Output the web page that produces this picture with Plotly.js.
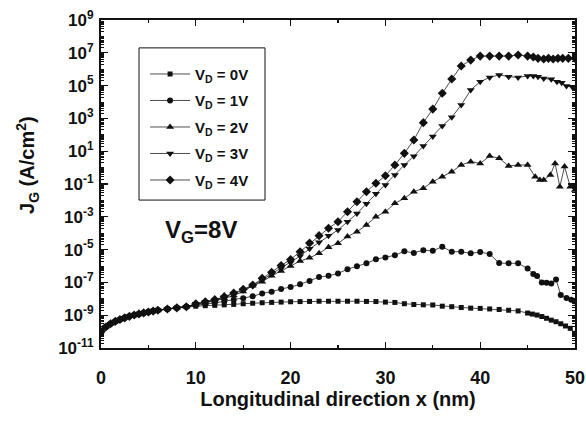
<!DOCTYPE html>
<html>
<head>
<meta charset="utf-8">
<script src="https://cdn.plot.ly/plotly-3.0.1.min.js"></script>
<style>html,body{margin:0;padding:0;background:#fff}#chart{width:586px;height:423px}</style>
</head>
<body>
<div id="chart"></div>
<script>
// ---- data (x in nm, J_G in A/cm^2) ----
var xStart = [0, 0.5, 1, 1.5, 2, 2.5, 3, 3.5, 4, 4.5, 5, 5.5, 6, 7, 8, 9];
var jStart = [1.0e-10, 1.9e-10, 3.0e-10, 4.2e-10, 5.5e-10, 6.9e-10, 8.5e-10, 1.02e-9, 1.2e-9, 1.38e-9, 1.58e-9, 1.78e-9, 2.0e-9, 2.4e-9, 2.8e-9, 3.3e-9];

var xVD0 = [10, 11, 12, 13, 14, 15, 16, 17, 18, 19, 20, 21, 22, 23, 24, 25, 26, 27, 28, 29, 30, 31, 32, 33, 34, 35, 36, 37, 38, 39, 40, 41, 42, 43, 44, 45, 45.5, 46, 46.5, 47, 47.5, 48, 48.5, 49, 49.5, 50];
var jVD0 = [3.55e-9, 3.8e-9, 3.98e-9, 4.27e-9, 4.57e-9, 5.0e-9, 5.37e-9, 5.75e-9, 6.03e-9, 6.3e-9, 6.6e-9, 6.76e-9, 6.9e-9, 7.1e-9, 7.1e-9, 7.1e-9, 7.1e-9, 7.1e-9, 6.9e-9, 6.8e-9, 6.3e-9, 6.0e-9, 5.0e-9, 4.5e-9, 4.3e-9, 4.2e-9, 3.55e-9, 3.3e-9, 2.95e-9, 2.7e-9, 2.6e-9, 2.4e-9, 2.24e-9, 2.0e-9, 1.82e-9, 1.35e-9, 1.17e-9, 1.02e-9, 8.3e-10, 6.5e-10, 5.0e-10, 4.0e-10, 3.0e-10, 2.2e-10, 1.58e-10, 7.9e-11];

var xVD1 = [10, 11, 12, 13, 14, 15, 16, 17, 18, 19, 20, 21, 22, 23, 24, 25, 26, 27, 28, 29, 30, 31, 32, 33, 34, 35, 36, 37, 38, 39, 40, 41, 42, 43, 44, 45, 45.6, 46, 46.5, 47, 47.5, 48, 48.5, 49.1, 49.6, 50];
var jVD1 = [3.98e-9, 4.8e-9, 5.6e-9, 7.1e-9, 8.9e-9, 1.07e-8, 1.41e-8, 2.14e-8, 2.7e-8, 4.0e-8, 5.2e-8, 7.6e-8, 1.2e-7, 2.1e-7, 2.5e-7, 3.55e-7, 6.3e-7, 9.5e-7, 1.45e-6, 2.57e-6, 3.3e-6, 4.5e-6, 7.9e-6, 6.3e-6, 9.1e-6, 8.5e-6, 1.5e-5, 7.4e-6, 7.4e-6, 5.9e-6, 7.1e-6, 5.4e-6, 1.5e-6, 1.45e-6, 1.45e-6, 7.1e-7, 3.2e-7, 2.45e-7, 1.0e-7, 9.5e-8, 8.7e-8, 1.5e-7, 1.7e-8, 1.12e-8, 8.9e-9, 6.8e-9];

var xVD2 = [10, 11, 12, 13, 14, 15, 16, 17, 18, 19, 20, 21, 22, 23, 24, 25, 26, 27, 28, 29, 30, 31, 32, 33, 34, 35, 36, 37, 38, 39, 40, 41, 42, 43, 44, 45, 45.8, 46.3, 46.7, 47.4, 47.9, 48.4, 48.9, 49.5, 50];
var jVD2 = [4.5e-9, 5.75e-9, 7.6e-9, 1.07e-8, 1.58e-8, 2.8e-8, 6.3e-8, 1.1e-7, 2.5e-7, 5.0e-7, 1.0e-6, 2.0e-6, 3.16e-6, 5.9e-6, 1.41e-5, 2.4e-5, 6.2e-5, 1.23e-4, 3.16e-4, 1.0e-3, 2.04e-3, 6.6e-3, 1.35e-2, 3.4e-2, 5.5e-2, 0.138, 0.28, 0.56, 1.45, 2.3, 1.8, 5.1, 3.7, 1.26, 1.45, 1.45, 0.28, 0.174, 0.174, 0.355, 1.8, 0.069, 1.15, 0.069, 0.043];

var xVD3 = [10, 11, 12, 13, 14, 15, 16, 17, 18, 19, 20, 21, 22, 23, 24, 25, 26, 27, 28, 29, 30, 31, 32, 33, 34, 35, 36, 37, 38, 39, 40, 41, 42, 43, 44, 45, 45.6, 46.1, 46.7, 47.5, 48.1, 48.6, 49.1, 49.7, 50];
var jVD3 = [4.8e-9, 6.3e-9, 8.3e-9, 1.26e-8, 2.0e-8, 3.4e-8, 6.3e-8, 1.41e-7, 3.16e-7, 7.1e-7, 1.58e-6, 4.0e-6, 1.12e-5, 2.8e-5, 7.1e-5, 1.58e-4, 5.0e-4, 1.58e-3, 6.3e-3, 2.5e-2, 8.7e-2, 0.355, 1.45, 5.0, 21, 78, 347, 1175, 6600, 5.4e4, 1.74e5, 3.16e5, 4.5e5, 3.5e5, 3.16e5, 3.9e5, 3.9e5, 3.5e5, 2.75e5, 2.4e5, 1.74e5, 1.5e5, 9.5e4, 8.5e4, 7.9e4];

var xVD4 = [10, 11, 12, 13, 14, 15, 16, 17, 18, 19, 20, 21, 22, 23, 24, 25, 26, 27, 28, 29, 30, 31, 32, 33, 34, 35, 36, 37, 38, 39, 40, 41, 42, 43, 44, 45, 45.6, 46.1, 46.7, 47.2, 47.7, 48.2, 48.7, 49.3, 50];
var jVD4 = [5.0e-9, 6.6e-9, 8.9e-9, 1.35e-8, 2.24e-8, 3.8e-8, 6.9e-8, 1.78e-7, 4.2e-7, 1.07e-6, 2.5e-6, 7.4e-6, 2.5e-5, 7.1e-5, 2.0e-4, 5.0e-4, 2.04e-3, 8.3e-3, 3.4e-2, 0.11, 0.316, 1.45, 7.4, 48, 550, 3700, 3.4e4, 2.5e5, 1.58e6, 3.6e6, 6.3e6, 6.3e6, 6.3e6, 6.3e6, 7.4e6, 6.3e6, 5.6e6, 4.6e6, 4.2e6, 4.6e6, 4.2e6, 4.6e6, 4.6e6, 4.6e6, 4.6e6];

var seriesNames = ['V<sub>D</sub> = 0V', 'V<sub>D</sub> = 1V', 'V<sub>D</sub> = 2V', 'V<sub>D</sub> = 3V', 'V<sub>D</sub> = 4V'];
var seriesSymbols = ['square', 'circle', 'triangle-up', 'triangle-down', 'diamond'];
var seriesX = [xVD0, xVD1, xVD2, xVD3, xVD4];
var seriesJ = [jVD0, jVD1, jVD2, jVD3, jVD4];

var xTickVals = [0, 10, 20, 30, 40, 50];
var xTickText = ['0', '10', '20', '30', '40', '50'];
var yTickVals = [1e-11, 1e-9, 1e-7, 1e-5, 1e-3, 1e-1, 1e1, 1e3, 1e5, 1e7, 1e9];
var yTickText = ['10<sup>-11</sup>', '10<sup>-9</sup>', '10<sup>-7</sup>', '10<sup>-5</sup>', '10<sup>-3</sup>', '10<sup>-1</sup>', '10<sup>1</sup>', '10<sup>3</sup>', '10<sup>5</sup>', '10<sup>7</sup>', '10<sup>9</sup>'];

var markerSizes = [5, 6, 7, 7, 7];

var traces = [];
for (var i = 0; i < 5; i++) {
  traces.push({
    type: 'scatter', mode: 'lines+markers',
    x: xStart.concat(seriesX[i]),
    y: jStart.concat(seriesJ[i]),
    name: seriesNames[i],
    legendgroup: 'g' + i,
    line: {color: '#000', width: 0.7},
    marker: {symbol: seriesSymbols[i], size: markerSizes[i], color: '#111'}
  });
}

var F = 'Liberation Sans, Arial, sans-serif';
var layout = {
  width: 586, height: 423,
  margin: {l: 101, r: 11, t: 20, b: 75},
  paper_bgcolor: '#fff', plot_bgcolor: '#fff',
  font: {family: F, color: '#111'},
  showlegend: true,
  legend: {
    x: 0.093, y: 0.885, xanchor: 'left', yanchor: 'top',
    bgcolor: 'rgba(0,0,0,0)', borderwidth: 0,
    font: {family: F, size: 15, color: '#111', weight: 'bold'},
    tracegroupgap: 4, itemwidth: 40
  },
  xaxis: {
    range: [0, 50], tickmode: 'array', tickvals: xTickVals, ticktext: xTickText,
    ticks: 'inside', ticklen: 6, tickwidth: 1.2, tickcolor: '#111',
    minor: {ticks: 'inside', dtick: 5, ticklen: 3, tickwidth: 1.2, tickcolor: '#111'},
    showline: true, linewidth: 2, linecolor: '#111', mirror: 'ticks',
    showgrid: false, zeroline: false,
    tickfont: {family: F, size: 18, weight: 'bold', color: '#111'},
    ticklabelstandoff: 12,
    title: {text: 'Longitudinal direction x (nm)', font: {family: F, size: 20, weight: 'bold', color: '#111'}, standoff: 4}
  },
  yaxis: {
    type: 'log', range: [-11, 9], tickmode: 'array', tickvals: yTickVals, ticktext: yTickText,
    ticks: 'inside', ticklen: 7, tickwidth: 1.2, tickcolor: '#111',
    minor: {ticks: 'inside', dtick: 'D1', ticklen: 3, tickwidth: 1, tickcolor: '#111'},
    showline: true, linewidth: 2, linecolor: '#111', mirror: 'ticks',
    showgrid: false, zeroline: false,
    tickfont: {family: F, size: 17, weight: 'bold', color: '#111'},
    ticklabelstandoff: 2
  },
  shapes: [{
    type: 'rect', xref: 'paper', yref: 'paper',
    x0: 0.0802, x1: 0.346, y0: 0.451, y1: 0.915,
    line: {color: '#111', width: 1}, fillcolor: 'rgba(0,0,0,0)'
  }],
  annotations: [
    {xref: 'paper', yref: 'paper', x: 0.211, y: 0.354, xanchor: 'center', yanchor: 'middle',
     text: 'V<sub>G</sub>=8V', showarrow: false, font: {family: F, size: 24, weight: 'bold', color: '#111'}},
    {xref: 'paper', yref: 'paper', x: -0.154, y: 0.558, xanchor: 'center', yanchor: 'middle',
     textangle: -90, text: 'J<sub>G</sub> (A/cm<sup>2</sup>)', showarrow: false,
     font: {family: F, size: 20, weight: 'bold', color: '#111'}}
  ]
};

Plotly.newPlot('chart', traces, layout, {displayModeBar: false, staticPlot: true});
</script>
</body>
</html>
